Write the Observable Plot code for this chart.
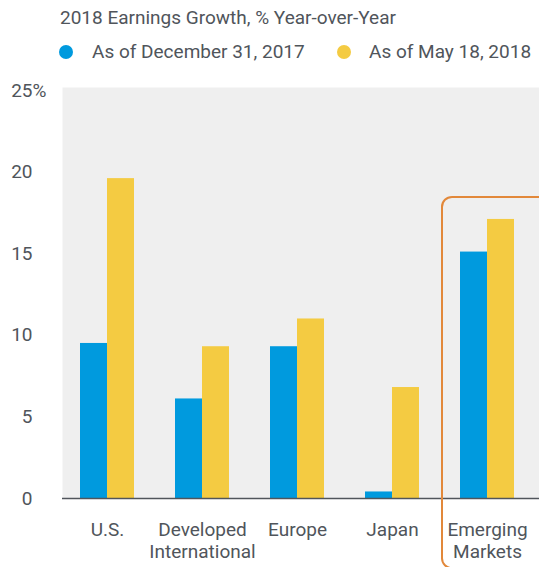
<!DOCTYPE html>
<html><head><meta charset="utf-8">
<script src="https://cdn.jsdelivr.net/npm/d3@7"></script>
<script src="https://cdn.jsdelivr.net/npm/@observablehq/plot@0.6"></script>
<style>
body{margin:0;background:#fff;font-family:Roboto,sans-serif;color:#50555b;}
#wrap{position:relative;width:539px;height:567px;overflow:hidden;}
#title{position:absolute;left:60px;top:8px;font-size:19px;line-height:20px;white-space:nowrap;}
.lg{position:absolute;top:42px;font-size:19px;line-height:20px;white-space:nowrap;}
.dot{position:absolute;top:45px;width:14px;height:14px;border-radius:50%;}
#chart{position:absolute;left:0;top:70px;}
</style></head><body>
<div id="wrap">
<div id="title">2018 Earnings Growth, % Year-over-Year</div>
<div id="legend"></div>
<div id="chart"></div>
</div>
<script>
const categories = ["U.S.", "Developed\nInternational", "Europe", "Japan", "Emerging\nMarkets"];
const seriesNames = ["As of December 31, 2017", "As of May 18, 2018"];
const dec2017 = [9.5, 6.1, 9.3, 0.4, 15.1];
const may2018 = [19.6, 9.3, 11.0, 6.8, 17.1];
const yTicks = [0, 5, 10, 15, 20, 25];
const colors = ["#009ade", "#f4cb42"];
const highlight = [{category: "Emerging\nMarkets", top: 18.45, bottom: -4.3}];

// legend
const legend = document.getElementById("legend");
const legendPos = [{dot: 59, text: 92}, {dot: 337, text: 369}];
seriesNames.forEach((s, i) => {
  const d = document.createElement("div");
  d.className = "dot"; d.style.left = legendPos[i].dot + "px"; d.style.background = colors[i];
  legend.appendChild(d);
  const t = document.createElement("div");
  t.className = "lg"; t.style.left = legendPos[i].text + "px"; t.textContent = s;
  legend.appendChild(t);
});

const rows0 = categories.map((c, i) => ({category: c, value: dec2017[i]}));
const rows1 = categories.map((c, i) => ({category: c, value: may2018[i]}));

const chart = Plot.plot({
  width: 539,
  height: 497,
  marginLeft: 62,
  marginRight: 0,
  marginTop: 20,
  marginBottom: 69,
  style: {fontFamily: "Roboto, sans-serif", color: "#50555b", background: "transparent", overflow: "visible"},
  x: {domain: categories, paddingInner: 0.434, paddingOuter: 0.217, align: 0.42},
  y: {domain: [0, 25]},
  marks: [
    Plot.frame({fill: "#efefef", stroke: null, insetTop: -3}),
    Plot.barY(rows0, {x: "category", y: "value", fill: colors[0], insetRight: 27}),
    Plot.barY(rows1, {x: "category", y: "value", fill: colors[1], insetLeft: 27}),
    Plot.ruleY([0], {stroke: "#50555b", strokeWidth: 1.5}),
    Plot.axisY({ticks: yTicks, tickSize: 0, tickPadding: 30, fontSize: 19, tickFormat: d => String(d)}),
    Plot.text([25], {y: d => d, text: () => "%", frameAnchor: "left", textAnchor: "start", dx: -30, fontSize: 19, fill: "#50555b"}),
    Plot.axisX({tickSize: 0, tickPadding: 22, fontSize: 19, lineHeight: 1.15, label: null}),
    Plot.barY(highlight, {x: "category", y1: "bottom", y2: "top", fill: "none", stroke: "#e2883a", strokeWidth: 2, rx: 10, insetLeft: -18, insetRight: -40})
  ]
});
document.getElementById("chart").appendChild(chart);
</script>
</body></html>
